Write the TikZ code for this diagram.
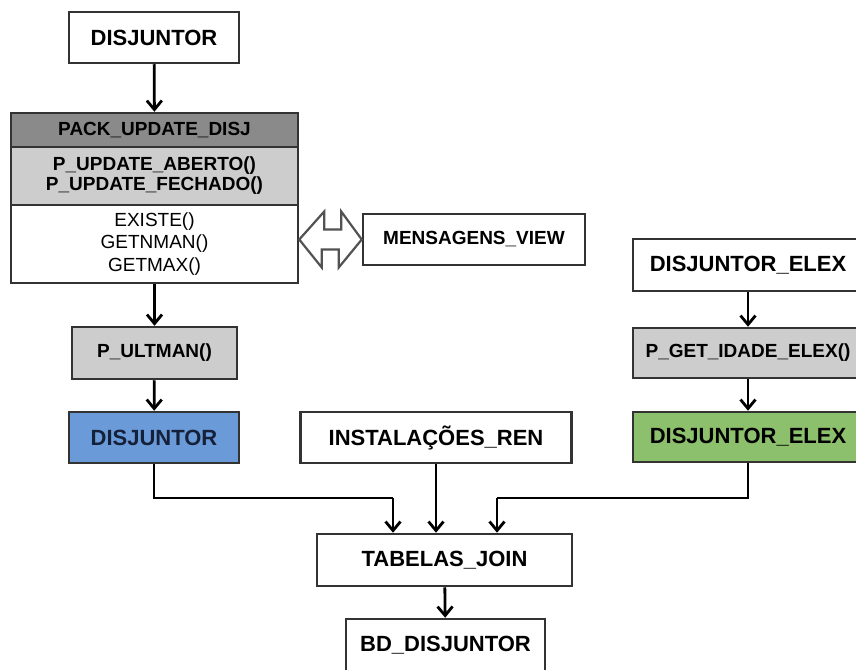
\documentclass[tikz,border=0pt]{standalone}
\usepackage{fontspec}
\setmainfont{Liberation Sans}
\usepackage{tikz}
\usetikzlibrary{arrows.meta,calc}

\definecolor{boxline}{HTML}{333333}
\definecolor{headgray}{HTML}{8A8A8A}
\definecolor{procgray}{HTML}{CDCDCD}
\definecolor{tabblue}{HTML}{6A9BD8}
\definecolor{tabgreen}{HTML}{8DC06C}
\definecolor{bluetext}{HTML}{15203A}

\begin{document}
\begin{tikzpicture}[x=1pt,y=-1pt,
	tab/.style={draw=boxline,line width=2.5pt,fill=white,inner sep=0pt,
		font=\bfseries\fontsize{22}{24}\selectfont},
	proc/.style={draw=boxline,line width=2.5pt,fill=procgray,inner sep=0pt,
		font=\bfseries\fontsize{19}{20}\selectfont},
	flow/.style={line width=2.8pt,-{Straight Barb[length=9pt,width=15pt]}},
	link/.style={line width=2.8pt}]
	\useasboundingbox (0,0) rectangle (856,669);
	\node[tab,minimum width=170pt,minimum height=51pt] (disj) at (154,37.5){DISJUNTOR};
	\node[proc,fill=headgray,minimum width=287pt,minimum height=34pt] (packhead) at (154.5,130){PACK\_UPDATE\_DISJ};
	\node[proc,align=center,minimum width=287pt,minimum height=58pt] (packproc) at (154.5,176){P\_UPDATE\_ABERTO()\\P\_UPDATE\_FECHADO()};
	\node[tab,align=center,minimum width=287pt,minimum height=78pt,
		font=\fontsize{19}{22.5}\selectfont] (packfun) at (154.5,244){EXISTE()\\GETNMAN()\\GETMAX()};
	\node[tab,font=\bfseries\fontsize{19}{20}\selectfont,minimum width=222pt,minimum height=51pt] (mview) at (474,239.5){MENSAGENS\_VIEW};
	\node[proc,minimum width=165pt,minimum height=52pt] (ultman) at (154.5,353){P\_ULTMAN()};
	\node[tab,fill=tabblue,text=bluetext,minimum width=170pt,minimum height=51pt] (disjb) at (154,437.5){DISJUNTOR};
	\node[tab,minimum width=230pt,minimum height=52pt] (elex) at (748,265){DISJUNTOR\_ELEX};
	\node[proc,minimum width=230pt,minimum height=50pt] (getidade) at (748,353){P\_GET\_IDADE\_ELEX()};
	\node[tab,fill=tabgreen,minimum width=230pt,minimum height=50pt] (elexg) at (748,437){DISJUNTOR\_ELEX};
	\node[tab,minimum width=271pt,minimum height=51pt] (inst) at (436,437.5){INSTALAÇÕES\_REN};
	\node[tab,minimum width=255pt,minimum height=52pt] (join) at (444.5,560){TABELAS\_JOIN};
	\node[tab,minimum width=199pt,minimum height=52pt] (bd) at (445.5,645){BD\_DISJUNTOR};
	\coordinate (jl) at (393,498);
	\coordinate (jr) at (497,498);
	\coordinate (dl) at (packfun.east |- mview.west);
	\coordinate (dr) at (mview.west);
	\draw [flow] (disj) -- (packhead);
	\draw [flow] (packfun) -- (ultman);
	\draw [flow] (ultman) -- (disjb);
	\draw [flow] (elex) -- (getidade);
	\draw [flow] (getidade) -- (elexg);
	\draw [link] (disjb.south) |- (jl);
	\draw [flow] (jl) -- (jl |- join.north);
	\draw [flow] (inst.south) -- (inst.south |- join.north);
	\draw [link] (elexg.south) |- (jr);
	\draw [flow] (jr) -- (jr |- join.north);
	\draw [flow] (join) -- (bd);
	\draw [draw=boxline!85,fill=white,line width=2.2pt,line join=miter]
		(dl) -- ++(25,-28) -- ++(0,18) -- ++(17,0) -- ++(0,-18) -- (dr)
		-- ++(-23,28) -- ++(0,-18) -- ++(-17,0) -- ++(0,18) -- cycle;
\end{tikzpicture}
\end{document}
